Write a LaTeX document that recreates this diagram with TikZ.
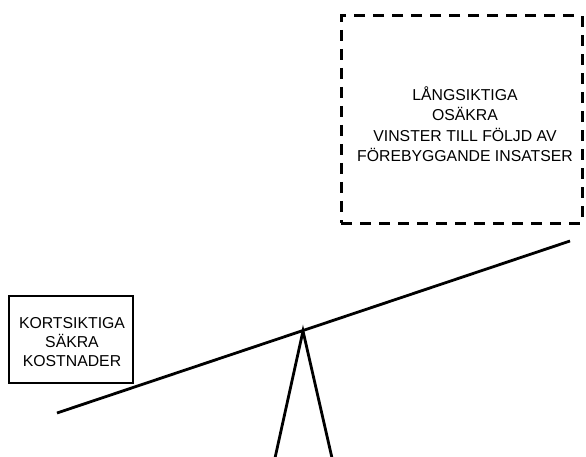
\documentclass[tikz,border=0pt]{standalone}
\usepackage{fontspec}
\setmainfont{Liberation Sans}
\begin{document}
\begin{tikzpicture}[x=1pt,y=-1pt,
  lbl/.style={align=center, font=\fontsize{15.8}{20.5}\selectfont, inner sep=0pt},
  solidbox/.style={draw, line width=2.4pt},
  dashbox/.style={draw, line width=3pt, dash pattern=on 11pt off 8pt},
  bar/.style={line width=2.8pt}]
\useasboundingbox (0,0) rectangle (586,457);
\node[dashbox, minimum width=241pt, minimum height=207pt] (gainbox) at (461.5,119.5) {};
\node[lbl] (gain) at (465,124) {LÅNGSIKTIGA\\OSÄKRA\\VINSTER TILL FÖLJD AV\\FÖREBYGGANDE INSATSER};
\node[solidbox, minimum width=124pt, minimum height=87pt] (costbox) at (71,339.5) {};
\node[lbl, font=\fontsize{15.8}{19}\selectfont] (cost) at (72,342) {KORTSIKTIGA\\SÄKRA\\KOSTNADER};
\coordinate (bl) at (57,413);
\coordinate (br) at (570,241);
\coordinate (pv) at (303,331);
\coordinate (tl) at (275,458);
\coordinate (tr) at (332,458);
\draw[bar] (bl) -- (br);
\draw[bar, line join=miter] (tl) -- (pv) -- (tr);
\end{tikzpicture}
\end{document}
